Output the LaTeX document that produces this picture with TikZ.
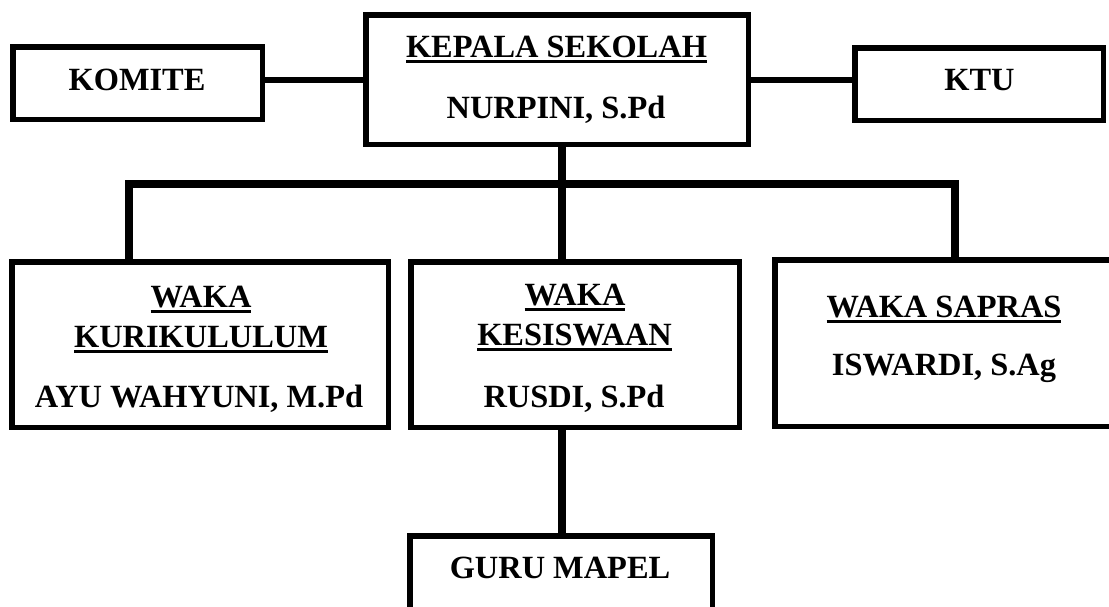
\documentclass[tikz,border=0pt]{standalone}
\usepackage{fontspec}
\setmainfont{Liberation Serif}
\newcommand\ulin[1]{\setbox0\hbox{#1}\rlap{\rule[-6pt]{\wd0}{3.2pt}}\box0}
\begin{document}
\begin{tikzpicture}[x=1pt,y=-1pt,
  box/.style={draw, line width=5.5pt, rectangle, inner sep=0pt},
  txt/.style={anchor=base, inner sep=0pt, font=\fontsize{32.4}{38}\selectfont\bfseries},
  thinline/.style={line width=6pt},
  thickline/.style={line width=8.5pt, line join=miter}]
\clip (0,0) rectangle (1109,606);
\useasboundingbox (0,0) rectangle (1109,606);
% boxes
\node[box, minimum width=249.5pt, minimum height=72.5pt] (komite) at (137.5,83) {};
\node[box, minimum width=382.5pt, minimum height=129.5pt] (kepsek) at (557,79.5) {};
\node[box, minimum width=248.5pt, minimum height=72.5pt] (ktu) at (979,84) {};
\node[box, minimum width=376.5pt, minimum height=165.5pt] (kur) at (200,344.5) {};
\node[box, minimum width=328.5pt, minimum height=165.5pt] (kes) at (575,344.5) {};
\node[box, minimum width=338.5pt, minimum height=166.5pt] (sap) at (944,343) {};
\node[box, minimum width=302.5pt, minimum height=101.5pt] (guru) at (561,586.5) {};
% texts
\node[txt] (t-komite) at (137,90) {KOMITE};
\node[txt] (t-kepsek1) at (556.5,57) {\ulin{KEPALA SEKOLAH}};
\node[txt] (t-kepsek2) at (556,118) {NURPINI, S.Pd};
\node[txt] (t-ktu) at (979.5,90) {KTU};
\node[txt] (t-kur1) at (201,307) {\ulin{WAKA}};
\node[txt] (t-kur2) at (201,347) {\ulin{KURIKULULUM}};
\node[txt] (t-kur3) at (199,407) {AYU WAHYUNI, M.Pd};
\node[txt] (t-kes1) at (575,305) {\ulin{WAKA}};
\node[txt] (t-kes2) at (574.5,345) {\ulin{KESISWAAN}};
\node[txt] (t-kes3) at (574,407) {RUSDI, S.Pd};
\node[txt] (t-sap1) at (944,317) {\ulin{WAKA SAPRAS}};
\node[txt] (t-sap2) at (944,375) {ISWARDI, S.Ag};
\node[txt] (t-guru) at (560,578) {GURU MAPEL};
% connectors
\draw[thinline] ([yshift=3pt]komite.east) -- ([yshift=3pt]komite.east -| kepsek.west);
\draw[thinline] ([yshift=4pt]ktu.west) -- ([yshift=4pt]ktu.west -| kepsek.east);
\coordinate (bus) at (562,184);
\coordinate (busL) at (129,184);
\coordinate (busR) at (955,184);
\draw[thickline] (busL |- kur.north) -- (busL) -- (busR) -- (busR |- sap.north);
\draw[thickline] (bus |- kepsek.south) -- (bus |- kes.north);
\draw[thickline] (bus |- kes.south) -- (bus |- guru.north);
\end{tikzpicture}
\end{document}
